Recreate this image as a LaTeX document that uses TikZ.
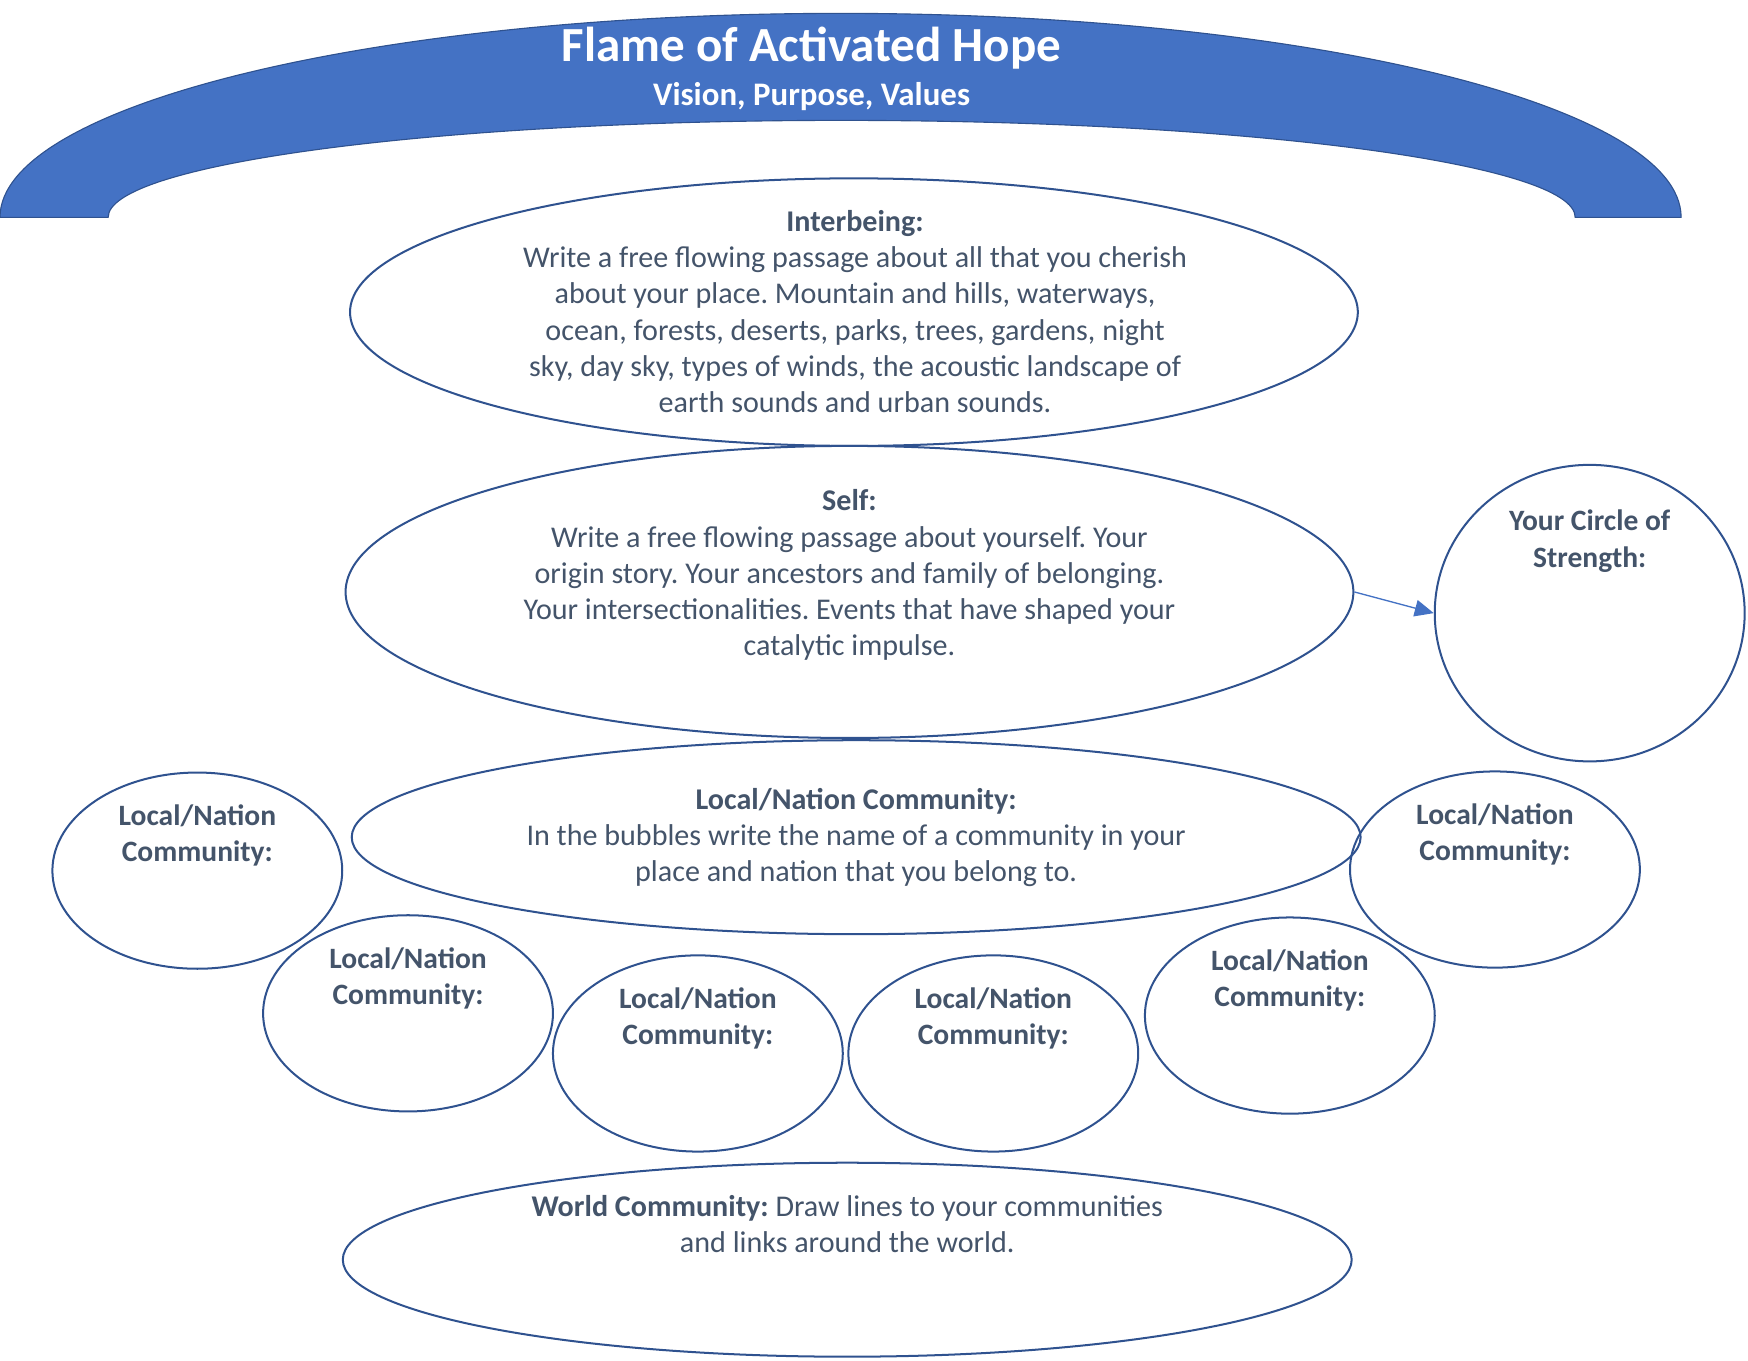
\documentclass[tikz,border=0pt]{standalone}
\usepackage{fontspec}
\setmainfont{Carlito}
\usepackage{xcolor}
\usetikzlibrary{shapes,arrows.meta,positioning,calc}
\definecolor{arcblue}{RGB}{68,114,196}
\definecolor{outline}{RGB}{47,82,143}
\definecolor{textgray}{RGB}{68,84,106}
\frenchspacing

\begin{document}
\begin{tikzpicture}[
    x=1pt, y=1pt,
    bubble/.style={draw=outline, ellipse, line width=1.8pt, inner sep=0pt},
    wide/.style={bubble, minimum width=904pt},
    small/.style={bubble, minimum width=260pt, minimum height=176pt},
    body/.style={text=textgray, align=center, font=\fontsize{27}{32.5}\selectfont},
    boldbody/.style={body, font=\bfseries\fontsize{26.5}{32.5}\selectfont},
    title/.style={text=white, align=center, font=\bfseries\fontsize{44}{50}\selectfont},
    arrow/.style={-{Triangle[length=17pt,width=15pt]}, draw=arcblue, fill=arcblue, line width=1.2pt}
]
    \useasboundingbox (0,0) rectangle (1568,1220);

    % Flame arc
    \path[fill=arcblue, draw=outline, line width=1pt] (0,1025)
        arc[start angle=180, end angle=0, x radius=754, y radius=183]
        -- (1413,1025)
        arc[start angle=0, end angle=180, x radius=658, y radius=87]
        -- cycle;
    \node[title] (flame) at (728,1177) {Flame of Activated Hope};
    \node[title, font=\bfseries\fontsize{29.5}{34}\selectfont] (vision) at (728,1133) {Vision, Purpose, Values};

    % Interbeing
    \node[wide, minimum height=240pt] (inter) at (766,940) {};
    \node[body] (intertext) at (767,940.5) {\textbf{Interbeing:}\\
        Write a free flowing passage about all that you cherish\\
        about your place. Mountain and hills, waterways,\\
        ocean, forests, deserts, parks, trees, gardens, night\\
        sky, day sky, types of winds, the acoustic landscape of\\
        earth sounds and urban sounds.};

    % Self
    \node[wide, minimum height=262pt] (self) at (762,689) {};
    \node[body] (selftext) at (762,704) {\textbf{Self:}\\
        Write a free flowing passage about yourself. Your\\
        origin story. Your ancestors and family of belonging.\\
        Your intersectionalities. Events that have shaped your\\
        catalytic impulse.};

    % Circle of Strength
    \node[bubble, minimum width=278pt, minimum height=266pt] (strength) at (1426,670) {};
    \node[boldbody] (strengthtext) at (1426,734.5) {Your Circle of\\ Strength:};
    \draw[arrow] (self.east) -- (strength.west);

    % Local/Nation Community
    \node[wide, minimum width=905pt, minimum height=174pt] (local) at (768,469) {};
    \node[body] (localtext) at (768,468.5) {\textbf{Local/Nation Community:}\\
        In the bubbles write the name of a community in your\\
        place and nation that you belong to.};

    % Community bubbles
    \foreach \name/\x/\y in {ca/177/439, cb/366/311, cc/626/275, cd/891/275, ce/1157/309, cf/1341/440} {
        \node[small] (\name) at (\x,\y) {};
        \node[boldbody] (\name text) at ([yshift=31.5pt]\name.center) {Local/Nation\\ Community:};
    }

    % World Community
    \node[wide, minimum width=905pt, minimum height=174pt] (world) at (760,90) {};
    \node[body] (worldtext) at ([yshift=32pt]world.center) {\textbf{World Community:} Draw lines to your communities\\
        and links around the world.};
\end{tikzpicture}
\end{document}
